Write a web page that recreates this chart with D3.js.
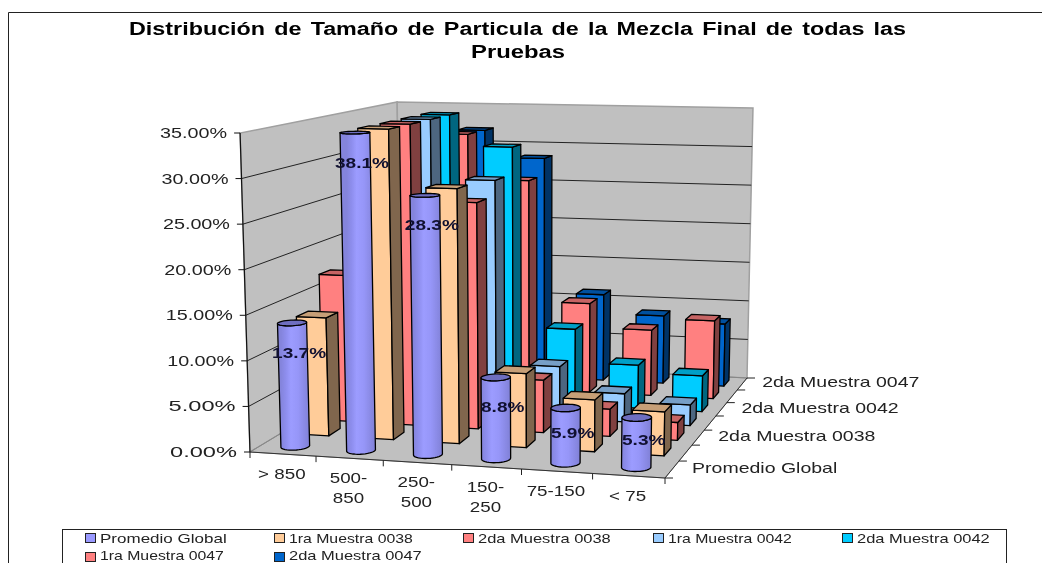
<!DOCTYPE html>
<html><head><meta charset="utf-8">
<script src="https://cdn.jsdelivr.net/npm/d3@7"></script>
<style>html,body{margin:0;padding:0;background:#fff;overflow:hidden}svg{display:block;filter:blur(0.35px)}text{font-family:"Liberation Sans",Arial,sans-serif}</style>
</head><body><svg id="c" width="1042" height="563"></svg>
<script>
const categories = ["> 850","500-850","250-500","150-250","75-150","< 75"];
const seriesNames = ["Promedio Global","1ra Muestra 0038","2da Muestra 0038","1ra Muestra 0042","2da Muestra 0042","1ra Muestra 0047","2da Muestra 0047"];
const promedioGlobal = [13.7,38.1,28.3,8.8,5.9,5.3];
const primera0038   = [13.4,37.5,28.5,8.2,5.7,4.8];
const segunda0038   = [17.1,38.5,26.1,6.0,3.1,2.0];
const primera0042   = [15.0,37.0,27.9,6.1,3.3,2.4];
const segunda0042   = [12.0,38.5,31.2,9.2,5.2,4.3];
const primera0047   = [14.0,32.0,26.3,11.1,8.1,9.6];
const segunda0047   = [13.0,31.9,28.4,11.0,8.6,7.9];
const seriesValues = [promedioGlobal,primera0038,segunda0038,primera0042,segunda0042,primera0047,segunda0047];
const colors = ["#9999ff","#ffcc99","#ff8080","#99ccff","#00ccff","#ff8080","#0066cc"];
const legendRows = [[0,1,2,3,4],[5,6]];
const depthLabels = [0,2,4,6];
const cylinder = [true,false,false,false,false,false,false];

const svg = d3.select("#c");
const defs = svg.append("defs");

/* perspective frame: floor corners, heights at three corners, vertical lean */
const FL=[250,452],FR=[665,478],BR=[747,378],BL=[401,361];
const hFL=319,hBL=259,hBR=270;
const leanZero=540, leanK=1.07e-4;
function homography(p00,p10,p11,p01){
  const [x0,y0]=p00,[x1,y1]=p10,[x2,y2]=p11,[x3,y3]=p01;
  const dx1=x1-x2,dx2=x3-x2,dy1=y1-y2,dy2=y3-y2,sx=x0-x1+x2-x3,sy=y0-y1+y2-y3;
  const den=dx1*dy2-dx2*dy1;
  const g=(sx*dy2-dx2*sy)/den,h=(dx1*sy-sx*dy1)/den;
  const a=x1-x0+g*x1,b=x3-x0+h*x3,d=y1-y0+g*y1,e=y3-y0+h*y3;
  return (u,v)=>{const w=g*u+h*v+1;return [(a*u+b*v+x0)/w,(d*u+e*v+y0)/w];};
}
const floorH=homography(FL,FR,BR,BL);
const inv0=1/hFL, invV=1/hBL-1/hFL, invU=1/hBR-1/hBL;
const P=(u,v,t)=>{
  const f=floorH(u,v), h=1/(inv0+invU*u+invV*v);
  return [f[0]+(f[0]-leanZero)*leanK*h*t, f[1]-h*t];
};

const yScale=d3.scaleLinear().domain([0,35]).range([0,1]).clamp(true);
const xScale=d3.scaleBand().domain(d3.range(categories.length)).range([0,1]).paddingInner(0.6).paddingOuter(0.3);
const zScale=d3.scaleBand().domain(d3.range(seriesNames.length)).range([0,1]).paddingInner(0.5).paddingOuter(0.25);
const poly=pts=>"M"+pts.map(p=>p[0].toFixed(2)+","+p[1].toFixed(2)).join("L")+"Z";
const mix=(c,k)=>d3.interpolateRgb(c,"#000")(k);
/* widen a text horizontally, the reference's type is stretched */
const stretch=(sel,k)=>sel.attr("textLength",sel.node().getComputedTextLength()*k).attr("lengthAdjust","spacingAndGlyphs");

/* chart border */
svg.append("path").attr("d","M8.5,563V12.5H1042").attr("stroke","#222").attr("stroke-width",1).attr("fill","none");

/* title */
const title=svg.append("g").attr("font-weight","bold").attr("font-size",17.5).attr("fill","#000").attr("text-anchor","middle").attr("word-spacing",2);
title.append("text").attr("x",517.5).attr("y",35).attr("textLength",777).attr("lengthAdjust","spacingAndGlyphs").text("Distribución de Tamaño de Particula de la Mezcla Final de todas las");
title.append("text").attr("x",518).attr("y",58).attr("textLength",94).attr("lengthAdjust","spacingAndGlyphs").text("Pruebas");

/* walls and floor */
const wallC="#c0c0c0",edge="#a0a0a0";
const aF=P(0,0,0),aT=P(0,0,1),bF=P(0,1,0),bT=P(0,1,1),cF=P(1,1,0),cT=P(1,1,1);
svg.append("path").attr("d",poly([aF,aT,bT,bF])).attr("fill",wallC).attr("stroke",edge).attr("stroke-width",1.5);
svg.append("path").attr("d",poly([bF,bT,cT,cF])).attr("fill",wallC).attr("stroke",edge).attr("stroke-width",1.5);
svg.append("path").attr("d",poly([P(0,0,0),P(1,0,0),P(1,1,0),P(0,1,0)])).attr("fill",wallC).attr("stroke","#909090").attr("stroke-width",1);

/* gridlines */
const ticks=d3.range(0,36,5);
ticks.forEach(t=>{
  const T=yScale(t);
  if(t===35) return;
  svg.append("path").attr("d",d3.line()([P(0,0,T),P(0,1,T),P(1,1,T)])).attr("fill","none").attr("stroke",t===0?"#888":"#222").attr("stroke-width",1);
});

/* y axis */
const axisG=svg.append("g");
axisG.append("path").attr("d",d3.line()([aF,aT])).attr("stroke","#111").attr("fill","none").attr("stroke-width",1.2);
ticks.forEach(t=>{
  const p=P(0,0,yScale(t));
  axisG.append("path").attr("d",`M${p[0]-6},${p[1]}H${p[0]}`).attr("stroke","#111");
  axisG.append("text").attr("x",p[0]-13).attr("y",p[1]+5).attr("text-anchor","end").attr("font-size",15).attr("fill","#222")
    .attr("textLength",67).attr("lengthAdjust","spacingAndGlyphs").text(d3.format(".2%")(t/100));
});

/* bars, back to front, left to right */
const boxExtra=0.005;
for(let s=seriesNames.length-1;s>=0;s--){
  const col=colors[s];
  categories.forEach((c,i)=>{
    const v=seriesValues[s][i], T=yScale(v);
    const u0=xScale(i),u1=u0+xScale.bandwidth(),z0=zScale(s),z1=z0+zScale.bandwidth();
    const g=svg.append("g").attr("stroke","#000").attr("stroke-width",1.3).attr("stroke-linejoin","round");
    if(cylinder[s]){
      const uc=(u0+u1)/2,zc=(z0+z1)/2,ru=(u1-u0)/2,rz=(z1-z0)/2;
      const ring=t=>d3.range(0,360,10).map(a=>{const r=a*Math.PI/180;return P(uc+ru*Math.cos(r),zc+rz*Math.sin(r),t);});
      const botR=ring(0),topR=ring(T),n=botR.length;
      const iL=d3.scan(botR,(a,b)=>a[0]-b[0]),iR=d3.scan(botR,(a,b)=>b[0]-a[0]);
      const walk=(from,to,step)=>{const o=[];let k=from;for(;;){o.push(k);if(k===to)break;k=(k+step+n)%n;}return o;};
      const pathA=walk(iL,iR,1),pathB=walk(iL,iR,-1);
      const ordered=d3.mean(pathA,k=>botR[k][1])>d3.mean(pathB,k=>botR[k][1])?pathA:pathB;
      const bodyPts=ordered.map(k=>botR[k]).concat(ordered.slice().reverse().map(k=>topR[k]));
      const id="cyl"+i;
      const lg=defs.append("linearGradient").attr("id",id).attr("gradientUnits","userSpaceOnUse")
        .attr("x1",botR[iL][0]).attr("x2",botR[iR][0]).attr("y1",0).attr("y2",0);
      [[0,"#8484dc"],[0.18,"#8e8eee"],[0.35,"#9c9cff"],[0.6,"#9696f8"],[1,"#8080d6"]].forEach(d=>lg.append("stop").attr("offset",d[0]).attr("stop-color",d[1]));
      g.append("path").attr("d",poly(bodyPts)).attr("fill",`url(#${id})`);
      g.append("path").attr("d",poly(topR)).attr("fill","#6e6ec0");
    } else {
      const a0=u0-boxExtra*0.6,a1=u1+boxExtra*1.4;
      const fl=P(a0,z0,0),fr=P(a1,z0,0),br=P(a1,z1,0);
      const tfl=P(a0,z0,T),tfr=P(a1,z0,T),tbr=P(a1,z1,T),tbl=P(a0,z1,T);
      g.append("path").attr("d",poly([fl,fr,tfr,tfl])).attr("fill",col);
      g.append("path").attr("d",poly([fr,br,tbr,tfr])).attr("fill",mix(col,0.5));
      g.append("path").attr("d",poly([tfl,tfr,tbr,tbl])).attr("fill",mix(col,0.22));
    }
  });
}

/* floor ticks and labels */
const front=svg.append("g");
front.append("path").attr("d",d3.line()([P(0,0,0),P(1,0,0),P(1,1,0)])).attr("stroke","#333").attr("fill","none").attr("stroke-width",1);
d3.range(0,7).forEach(i=>{
  const p=P(i/6,0,0);
  front.append("path").attr("d",`M${p[0]},${p[1]}v6`).attr("stroke","#222");
});
d3.range(0,8).forEach(i=>{
  const p=P(1,i/7,0);
  front.append("path").attr("d",`M${p[0]},${p[1]}h8`).attr("stroke","#222");
});
categories.forEach((c,i)=>{
  const mid=P((i+0.5)/6,0,0);
  const parts=c.startsWith(">")||c.startsWith("<")||c==="75-150"?[c]:[c.split("-")[0]+"-",c.split("-")[1]];
  parts.forEach((t,k)=>{
    const el=front.append("text").attr("x",mid[0]-1).attr("y",mid[1]+25+k*20).attr("text-anchor","middle").attr("font-size",15).attr("fill","#222").text(t);
    stretch(el,1.25);
  });
});
depthLabels.forEach(s=>{
  const p=P(1,(s+0.5)/7,0);
  const el=front.append("text").attr("x",p[0]+20).attr("y",p[1]+3.5).attr("font-size",15).attr("fill","#222").text(seriesNames[s]);
  stretch(el,1.3);
});

/* data labels */
promedioGlobal.forEach((v,i)=>{
  const uc=xScale(i)+xScale.bandwidth()/2,zc=zScale(0)+zScale.bandwidth()/2;
  const p=P(uc,zc,yScale(v)), base=P(uc,zc,0);
  const drop=Math.min(30,0.45*(base[1]-p[1]));
  const el=svg.append("text").attr("x",p[0]+7).attr("y",p[1]+drop+5).attr("text-anchor","middle").attr("font-weight","bold").attr("font-size",15)
    .attr("fill","#101030").text(d3.format(".1f")(v)+"%");
  stretch(el,1.27);
});

/* legend */
const leg=svg.append("g");
leg.append("rect").attr("x",62.5).attr("y",529.5).attr("width",944).attr("height",60).attr("fill","#fff").attr("stroke","#222").attr("stroke-width",1);
const colX=[85,274,463,653,842], rowY=[538,557.5], textY=[542.5,560];
legendRows.forEach((row,r)=>row.forEach((s,c)=>{
  leg.append("rect").attr("x",colX[c]+0.5).attr("y",Math.floor(rowY[r])-4.5).attr("width",10).attr("height",9).attr("fill",colors[s]).attr("stroke","#222").attr("stroke-width",1);
  const name=seriesNames[s];
  const el=leg.append("text").attr("x",colX[c]+15).attr("y",textY[r]).attr("font-size",13.5).attr("fill","#222").text(name);
  stretch(el,name.startsWith("1ra")?1.17:name.startsWith("2da")?1.22:1.26);
}));
</script></body></html>
